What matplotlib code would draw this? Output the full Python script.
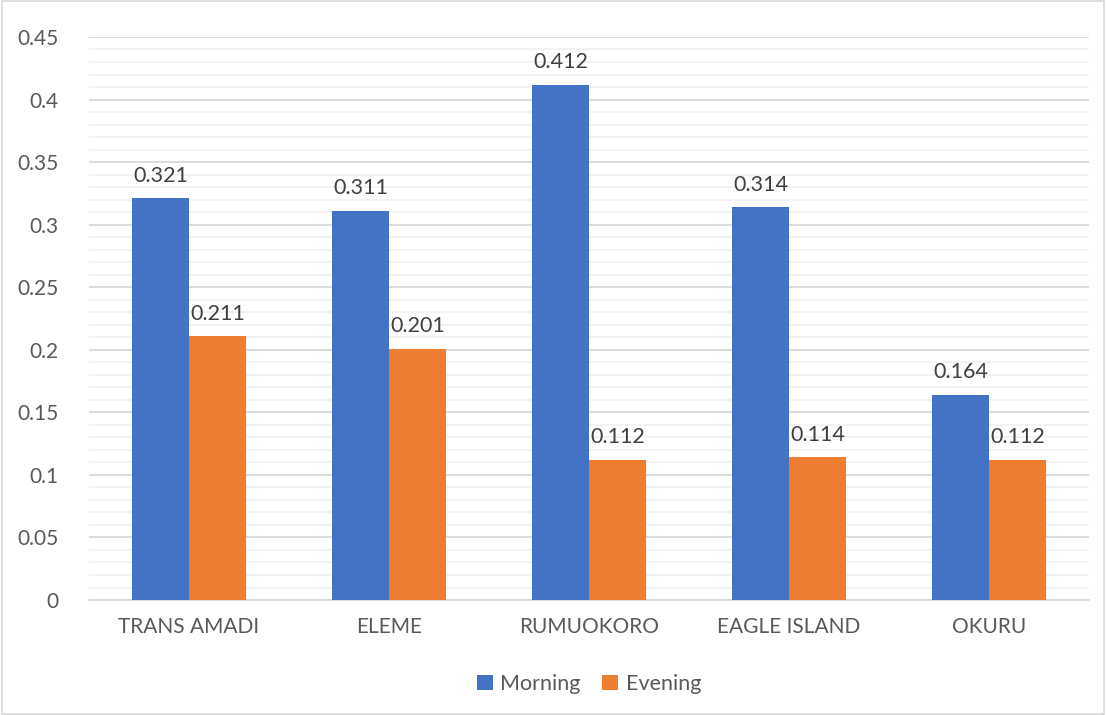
import numpy as np
import matplotlib.pyplot as plt
from matplotlib.ticker import MultipleLocator

sites = ['TRANS AMADI', 'ELEME', 'RUMUOKORO', 'EAGLE ISLAND', 'OKURU']
morning = [0.321, 0.311, 0.412, 0.314, 0.164]
evening = [0.211, 0.201, 0.112, 0.114, 0.112]

plt.rcParams['font.family'] = ['Lato', 'DejaVu Sans']

fig = plt.figure(figsize=(11.06, 7.15), dpi=100)
ax = fig.add_axes([0.0805, 0.1608, 0.904, 0.7875])

x = np.arange(len(sites))
w = 0.285
b1 = ax.bar(x - w / 2, morning, w, color='#4472C4', label='Morning', zorder=3)
b2 = ax.bar(x + w / 2, evening, w, color='#ED7D31', label='Evening', zorder=3)

for bars, vals in ((b1, morning), (b2, evening)):
    for bar, v in zip(bars, vals):
        ax.annotate(f'{v:g}', (bar.get_x() + bar.get_width() / 2, v),
                    xytext=(0, 9), textcoords='offset points',
                    ha='center', va='bottom', fontsize=15.5, color='#404040')

ax.set_xlim(-0.5, len(sites) - 0.5)
ax.set_ylim(0, 0.45)
ax.yaxis.set_major_locator(MultipleLocator(0.05))
ax.yaxis.set_minor_locator(MultipleLocator(0.01))
ax.set_yticklabels([f'{t:g}' for t in ax.get_yticks()])
ax.set_xticks(x)
ax.set_xticklabels(sites)

ax.grid(axis='y', which='major', color='#D9D9D9', linewidth=1.3, zorder=0)
ax.grid(axis='y', which='minor', color='#F2F2F2', linewidth=1.3, zorder=0)
for s in ['top', 'right', 'left']:
    ax.spines[s].set_visible(False)
ax.spines['bottom'].set_color('#D9D9D9')
ax.spines['bottom'].set_linewidth(1.3)
ax.tick_params(axis='both', which='both', length=0, labelsize=15, colors='#595959')
ax.tick_params(axis='x', pad=12)
ax.tick_params(axis='y', pad=22)

ax.legend(loc='center', bbox_to_anchor=(0.5, -0.149), ncol=2, frameon=False,
          fontsize=15.5, labelcolor='#595959', handlelength=0.75, handleheight=0.75,
          handletextpad=0.35, columnspacing=1.0)

fig.patches.append(plt.Rectangle((0.002, 0.002), 0.996, 0.996, transform=fig.transFigure,
                                 fill=False, edgecolor='#D9D9D9', linewidth=1.2))

fig.savefig('out.png', dpi=100)
